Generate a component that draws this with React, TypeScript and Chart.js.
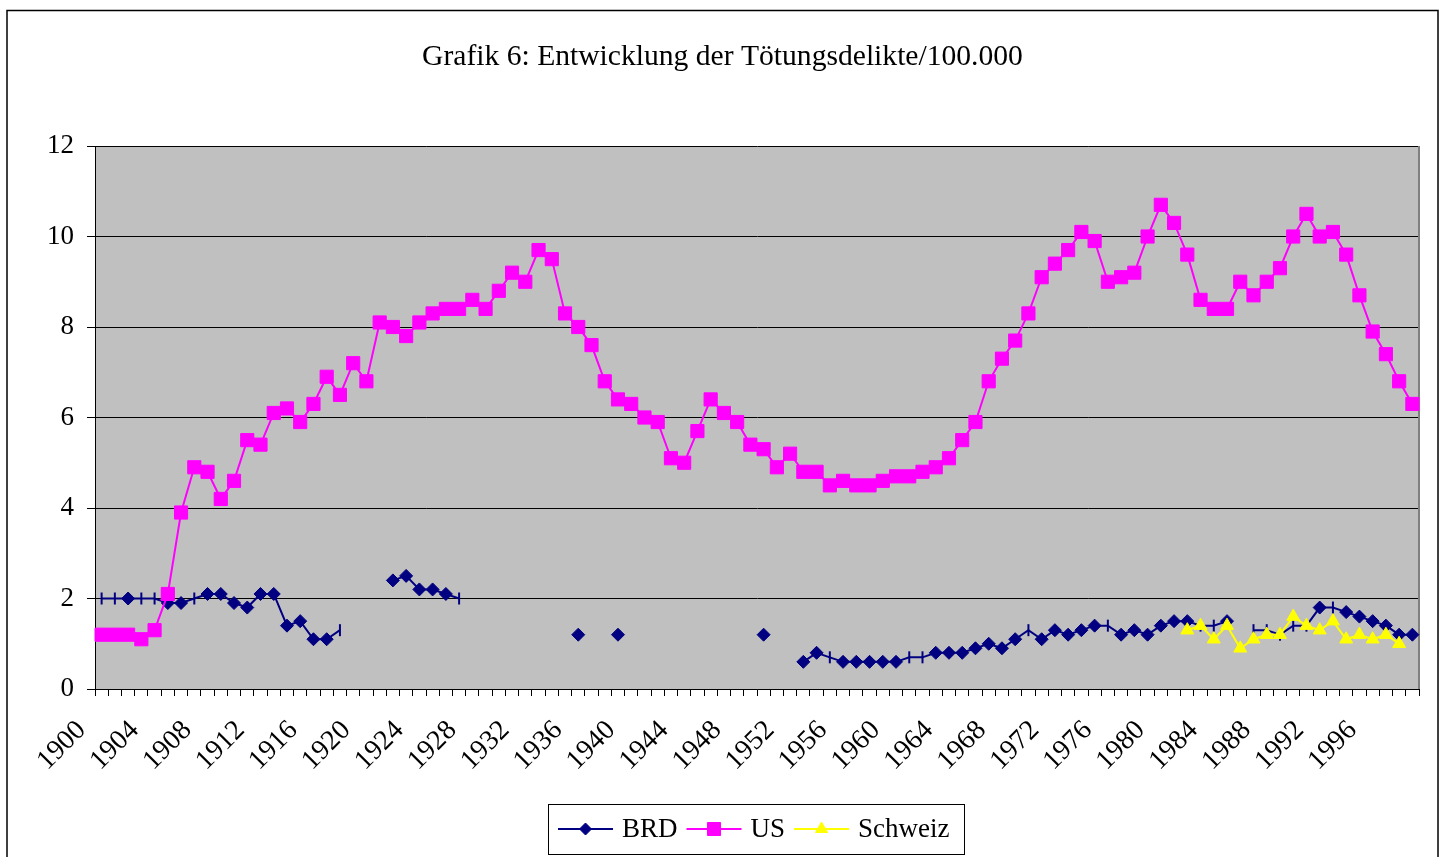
import React, { useEffect, useRef } from 'react';
import { Chart, registerables } from 'chart.js';

Chart.register(...registerables);

const years = [
  1900, 1901, 1902, 1903, 1904, 1905, 1906, 1907, 1908, 1909,
  1910, 1911, 1912, 1913, 1914, 1915, 1916, 1917, 1918, 1919,
  1920, 1921, 1922, 1923, 1924, 1925, 1926, 1927, 1928, 1929,
  1930, 1931, 1932, 1933, 1934, 1935, 1936, 1937, 1938, 1939,
  1940, 1941, 1942, 1943, 1944, 1945, 1946, 1947, 1948, 1949,
  1950, 1951, 1952, 1953, 1954, 1955, 1956, 1957, 1958, 1959,
  1960, 1961, 1962, 1963, 1964, 1965, 1966, 1967, 1968, 1969,
  1970, 1971, 1972, 1973, 1974, 1975, 1976, 1977, 1978, 1979,
  1980, 1981, 1982, 1983, 1984, 1985, 1986, 1987, 1988, 1989,
  1990, 1991, 1992, 1993, 1994, 1995, 1996, 1997, 1998, 1999,
];

const tickYears = [
  1900, 1904, 1908, 1912, 1916, 1920, 1924, 1928, 1932, 1936, 1940, 1944, 1948,
  1952, 1956, 1960, 1964, 1968, 1972, 1976, 1980, 1984, 1988, 1992, 1996,
];

const yTicks = [0, 2, 4, 6, 8, 10, 12];

const brd: (number | null)[] = [
  2.0, 2.0, 2.0, 2.0, 2.0, 1.9, 1.9, 2.0, 2.1, 2.1,
  1.9, 1.8, 2.1, 2.1, 1.4, 1.5, 1.1, 1.1, 1.3, null,
  null, null, 2.4, 2.5, 2.2, 2.2, 2.1, 2.0, null, null,
  null, null, null, null, null, null, 1.2, null, null, 1.2,
  null, null, null, null, null, null, null, null, null, null,
  1.2, null, null, 0.6, 0.8, 0.7, 0.6, 0.6, 0.6, 0.6,
  0.6, 0.7, 0.7, 0.8, 0.8, 0.8, 0.9, 1.0, 0.9, 1.1,
  1.3, 1.1, 1.3, 1.2, 1.3, 1.4, 1.4, 1.2, 1.3, 1.2,
  1.4, 1.5, 1.5, 1.4, 1.4, 1.5, null, 1.3, 1.3, 1.2,
  1.4, 1.4, 1.8, 1.8, 1.7, 1.6, 1.5, 1.4, 1.2, 1.2,
];

const us: (number | null)[] = [
  1.2, 1.2, 1.2, 1.1, 1.3, 2.1, 3.9, 4.9, 4.8, 4.2,
  4.6, 5.5, 5.4, 6.1, 6.2, 5.9, 6.3, 6.9, 6.5, 7.2,
  6.8, 8.1, 8.0, 7.8, 8.1, 8.3, 8.4, 8.4, 8.6, 8.4,
  8.8, 9.2, 9.0, 9.7, 9.5, 8.3, 8.0, 7.6, 6.8, 6.4,
  6.3, 6.0, 5.9, 5.1, 5.0, 5.7, 6.4, 6.1, 5.9, 5.4,
  5.3, 4.9, 5.2, 4.8, 4.8, 4.5, 4.6, 4.5, 4.5, 4.6,
  4.7, 4.7, 4.8, 4.9, 5.1, 5.5, 5.9, 6.8, 7.3, 7.7,
  8.3, 9.1, 9.4, 9.7, 10.1, 9.9, 9.0, 9.1, 9.2, 10.0,
  10.7, 10.3, 9.6, 8.6, 8.4, 8.4, 9.0, 8.7, 9.0, 9.3,
  10.0, 10.5, 10.0, 10.1, 9.6, 8.7, 7.9, 7.4, 6.8, 6.3,
];

const schweiz: (number | null)[] = [
  null, null, null, null, null, null, null, null, null, null,
  null, null, null, null, null, null, null, null, null, null,
  null, null, null, null, null, null, null, null, null, null,
  null, null, null, null, null, null, null, null, null, null,
  null, null, null, null, null, null, null, null, null, null,
  null, null, null, null, null, null, null, null, null, null,
  null, null, null, null, null, null, null, null, null, null,
  null, null, null, null, null, null, null, null, null, null,
  null, null, 1.3, 1.4, 1.1, 1.4, 0.9, 1.1, 1.2, 1.2,
  1.6, 1.4, 1.3, 1.5, 1.1, 1.2, 1.1, 1.2, 1.0, null,
];

// BRD points whose marker is drawn as a short vertical bar in the original
const brdBarYears = [
  1900, 1901, 1903, 1904, 1907, 1918, 1927, 1955, 1961, 1962, 1970, 1976,
  1983, 1984, 1987, 1988, 1989, 1990, 1991, 1993,
];

const TITLE = 'Grafik 6: Entwicklung der Tötungsdelikte/100.000';
const FONT = "'Liberation Serif', 'Times New Roman', serif";

const NAVY = '#000080';
const MAGENTA = '#FF00FF';
const YELLOW = '#FFFF00';

function drawMarker(ctx: CanvasRenderingContext2D, kind: string, x: number, y: number, color: string) {
  ctx.save();
  ctx.fillStyle = color;
  ctx.strokeStyle = color;
  ctx.lineWidth = 1;
  ctx.beginPath();
  if (kind === 'rectRot') {
    const r = 6;
    ctx.moveTo(x, y - r);
    ctx.lineTo(x + r, y);
    ctx.lineTo(x, y + r);
    ctx.lineTo(x - r, y);
  } else if (kind === 'rect') {
    const s = 6.5;
    ctx.rect(x - s, y - s, 2 * s, 2 * s);
  } else {
    const r = 7;
    ctx.moveTo(x, y - r);
    ctx.lineTo(x + r * 0.866, y + r * 0.5);
    ctx.lineTo(x - r * 0.866, y + r * 0.5);
  }
  ctx.closePath();
  ctx.fill();
  ctx.stroke();
  ctx.restore();
}

const framePlugin = {
  id: 'excelFrame',
  beforeDraw(chart: any) {
    const { ctx, chartArea: a } = chart;
    ctx.save();
    ctx.fillStyle = '#FFFFFF';
    ctx.fillRect(0, 0, chart.width, chart.height);
    ctx.fillStyle = '#C0C0C0';
    ctx.fillRect(a.left, a.top, a.right - a.left, a.bottom - a.top);
    ctx.restore();
  },
  beforeDatasetsDraw(chart: any) {
    const { ctx, chartArea: a } = chart;
    ctx.save();
    ctx.strokeStyle = '#808080';
    ctx.lineWidth = 2;
    ctx.beginPath();
    ctx.moveTo(a.right, a.top);
    ctx.lineTo(a.right, a.bottom);
    ctx.stroke();
    ctx.restore();
  },
  afterDraw(chart: any) {
    const { ctx } = chart;
    ctx.save();
    // outer chart border
    ctx.strokeStyle = '#000000';
    ctx.lineWidth = 1.5;
    ctx.strokeRect(7, 10.5, 1431, 900);

    // title
    ctx.fillStyle = '#000000';
    ctx.font = `29.6px ${FONT}`;
    ctx.textAlign = 'center';
    ctx.textBaseline = 'middle';
    ctx.fillText(TITLE, 722.5, 57);

    // legend
    const boxL = 548.5, boxT = 804.5, boxW = 416, boxH = 50;
    ctx.fillStyle = '#FFFFFF';
    ctx.fillRect(boxL, boxT, boxW, boxH);
    ctx.strokeStyle = '#000000';
    ctx.lineWidth = 1;
    ctx.strokeRect(boxL, boxT, boxW, boxH);
    ctx.font = `27px ${FONT}`;
    ctx.textAlign = 'left';
    ctx.textBaseline = 'alphabetic';
    const ly = 829;
    let x = 558;
    chart.data.datasets.forEach((ds: any) => {
      ctx.strokeStyle = ds.borderColor;
      ctx.lineWidth = 2;
      ctx.beginPath();
      ctx.moveTo(x, ly);
      ctx.lineTo(x + 55, ly);
      ctx.stroke();
      drawMarker(ctx, ds.legendMarker, x + 27.5, ly, ds.borderColor);
      ctx.fillStyle = '#000000';
      ctx.fillText(ds.label, x + 64, 837);
      x += 64 + ctx.measureText(ds.label).width + 9;
    });
    ctx.restore();
  },
};

export default function App() {
  const canvasRef = useRef<HTMLCanvasElement | null>(null);

  useEffect(() => {
    if (!canvasRef.current) return;
    const isBar = (i: number) => brdBarYears.includes(years[i]);
    const chart = new Chart(canvasRef.current, {
      type: 'line',
      data: {
        labels: years.map(String),
        datasets: [
          {
            label: 'BRD',
            data: brd,
            borderColor: NAVY,
            backgroundColor: NAVY,
            borderWidth: 2,
            pointStyle: (c: any) => (isBar(c.dataIndex) ? 'line' : 'rectRot'),
            pointRotation: (c: any) => (isBar(c.dataIndex) ? 90 : 0),
            pointRadius: (c: any) => (isBar(c.dataIndex) ? 6 : 6.5),
            pointBorderWidth: (c: any) => (isBar(c.dataIndex) ? 2 : 1),
            pointBackgroundColor: NAVY,
            pointBorderColor: NAVY,
            spanGaps: false,
            tension: 0,
            order: 3,
            clip: false,
            legendMarker: 'rectRot',
          } as any,
          {
            label: 'US',
            data: us,
            borderColor: MAGENTA,
            backgroundColor: MAGENTA,
            borderWidth: 2,
            pointStyle: 'rect',
            pointRadius: 9.3,
            pointBorderWidth: 1,
            pointBackgroundColor: MAGENTA,
            pointBorderColor: MAGENTA,
            tension: 0,
            order: 2,
            clip: false,
            legendMarker: 'rect',
          } as any,
          {
            label: 'Schweiz',
            data: schweiz,
            borderColor: YELLOW,
            backgroundColor: YELLOW,
            borderWidth: 2,
            pointStyle: 'triangle',
            pointRadius: 7.5,
            pointBorderWidth: 1,
            pointBackgroundColor: YELLOW,
            pointBorderColor: YELLOW,
            tension: 0,
            order: 1,
            clip: false,
            legendMarker: 'triangle',
          } as any,
        ],
      },
      options: {
        animation: false,
        responsive: true,
        maintainAspectRatio: false,
        events: [],
        layout: { padding: { left: 0, right: 26, top: 146, bottom: 58 } },
        plugins: {
          legend: { display: false },
          title: { display: false },
          tooltip: { enabled: false },
        },
        scales: {
          x: {
            type: 'category',
            offset: true,
            grid: {
              display: true,
              offset: true,
              drawOnChartArea: false,
              drawTicks: true,
              tickLength: 7,
              color: '#000000',
              lineWidth: 1,
            },
            border: { display: true, color: '#000000', width: 1 },
            ticks: {
              autoSkip: false,
              maxRotation: 45,
              minRotation: 45,
              padding: 18,
              labelOffset: -20,
              color: '#000000',
              font: { family: FONT, size: 28 },
              callback: (_v: any, i: number) =>
                tickYears.includes(years[i]) ? String(years[i]) : '',
            },
            afterFit: (s: any) => {
              s.height = 110;
              s.paddingLeft = 0;
              s.paddingRight = 0;
            },
          },
          y: {
            min: yTicks[0],
            max: yTicks[yTicks.length - 1],
            afterBuildTicks: (s: any) => {
              s.ticks = yTicks.map((v) => ({ value: v }));
            },
            grid: {
              color: '#000000',
              lineWidth: 1,
              drawTicks: true,
              tickLength: 8,
            },
            border: { display: true, color: '#000000', width: 1 },
            ticks: {
              padding: 13,
              color: '#000000',
              font: { family: FONT, size: 27 },
            },
            afterFit: (s: any) => {
              s.width = 95;
              s.paddingTop = 0;
              s.paddingBottom = 0;
            },
          },
        },
      },
      plugins: [framePlugin],
    });
    return () => chart.destroy();
  }, []);

  return (
    <div style={{ position: 'fixed', left: 0, top: 0, width: 1445, height: 857, background: '#fff' }}>
      <canvas ref={canvasRef} />
    </div>
  );
}
